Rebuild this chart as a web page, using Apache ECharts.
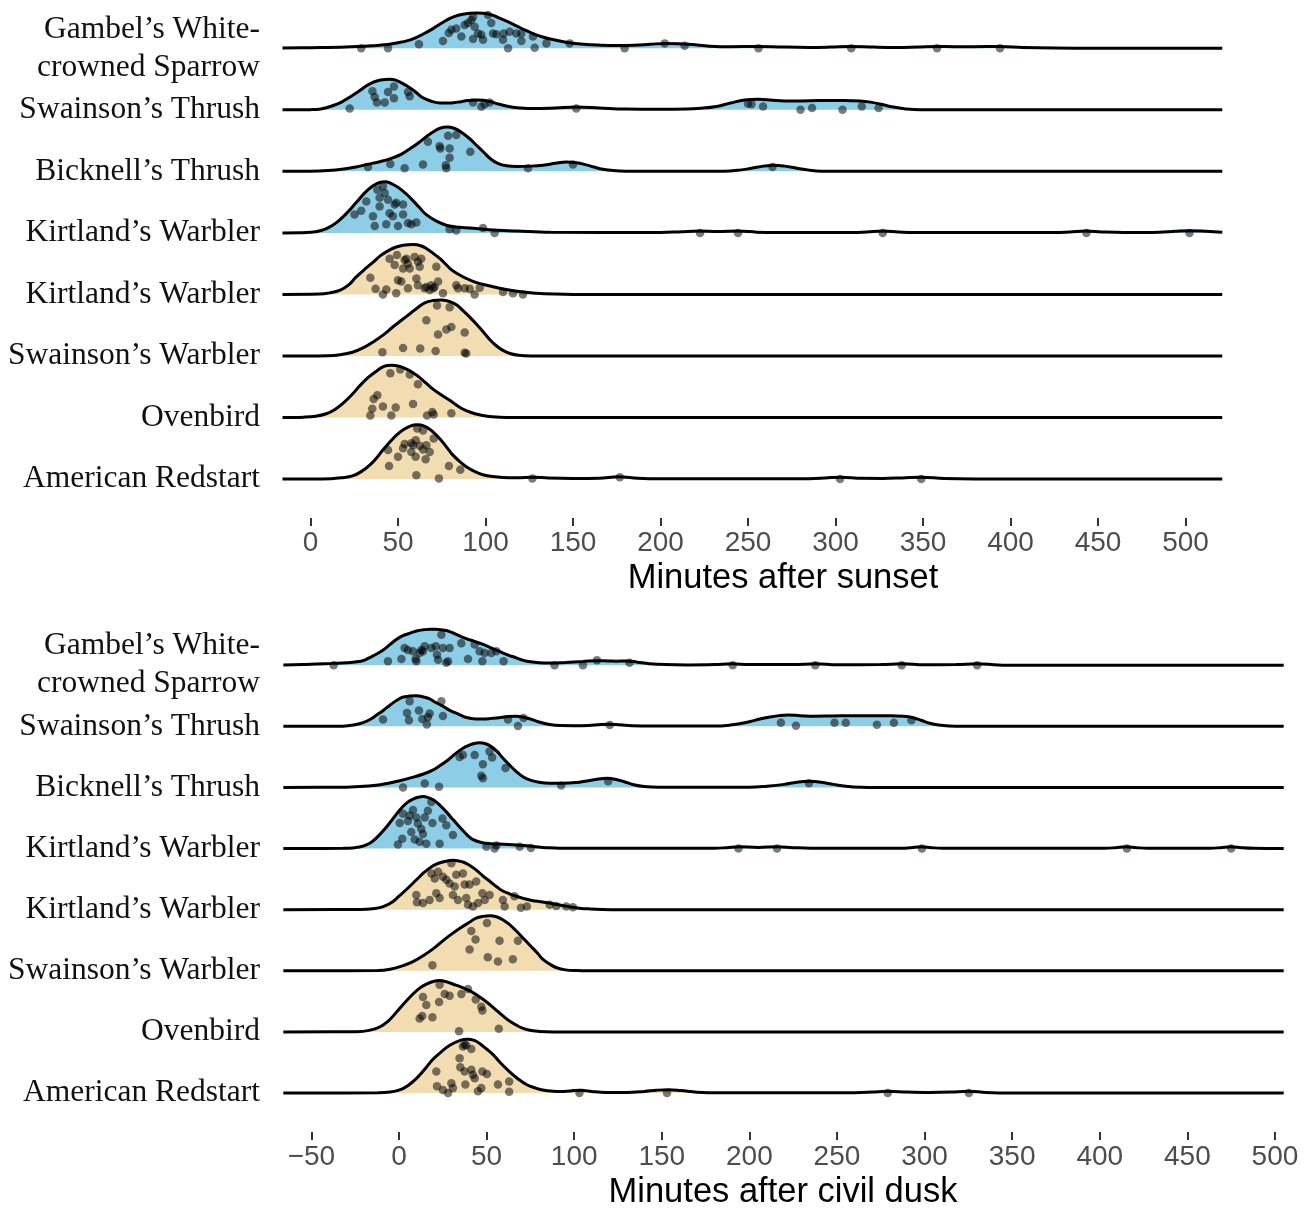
<!DOCTYPE html>
<html>
<head>
<meta charset="utf-8">
<script src="https://cdn.jsdelivr.net/npm/echarts@6/dist/echarts.min.js"></script>
<style>
html,body{margin:0;padding:0;background:#fff;}
#chart{width:1311px;height:1211px;}
</style>
</head>
<body>
<div id="chart"></div>
<script>
// Row order: index 0 = bottom row ... index 7 = top row
const speciesNames = ['American Redstart','Ovenbird','Swainson’s Warbler','Kirtland’s Warbler','Kirtland’s Warbler','Bicknell’s Thrush','Swainson’s Thrush','Gambel’s White-\ncrowned Sparrow'];
const fillGroup = ['tan','tan','tan','tan','blue','blue','blue','blue'];

const sunsetTicks = [0,50,100,150,200,250,300,350,400,450,500];
const duskTicks = [-50,0,50,100,150,200,250,300,350,400,450,500];

// ---------- Panel 1: minutes after sunset (scaled density [minute, height]) ----------
const sunsetDensityGWCS = [[-16,0.005],[0,0.01],[20,0.02],[35,0.04],[44,0.06],[50,0.09],[55,0.12],[60,0.17],[65,0.24],[70,0.32],[75,0.41],[80,0.49],[85,0.54],[91,0.57],[95,0.575],[99,0.57],[104,0.54],[108,0.49],[113,0.43],[118,0.36],[123,0.29],[127,0.24],[132,0.19],[137,0.15],[146,0.10],[156,0.065],[166,0.05],[175,0.045],[185,0.05],[194,0.065],[203,0.08],[210,0.075],[218,0.06],[228,0.035],[240,0.025],[256,0.03],[270,0.02],[285,0.015],[297,0.02],[309,0.03],[322,0.02],[335,0.015],[347,0.022],[358,0.03],[368,0.025],[379,0.025],[394,0.03],[407,0.015],[425,0.005],[450,0],[521,0]];
const sunsetDensitySWTH = [[-16,0],[0,0.003],[6,0.015],[13,0.07],[18,0.13],[22,0.2],[27,0.29],[32,0.39],[36,0.45],[41,0.49],[45,0.495],[49,0.48],[55,0.39],[60,0.29],[64,0.2],[69,0.14],[74,0.11],[79,0.11],[84,0.125],[90,0.15],[95,0.16],[99,0.155],[103,0.13],[108,0.09],[114,0.05],[120,0.03],[127,0.02],[140,0.03],[152,0.045],[165,0.03],[180,0.012],[200,0.008],[215,0.012],[223,0.025],[232,0.055],[240,0.11],[248,0.16],[256,0.17],[264,0.155],[271,0.145],[280,0.145],[290,0.15],[305,0.152],[314,0.145],[320,0.125],[326,0.09],[333,0.045],[340,0.015],[348,0],[521,0]];
const sunsetDensityBITH = [[-16,0],[0,0.003],[10,0.015],[19,0.04],[26,0.07],[32,0.11],[40,0.16],[47,0.22],[52,0.28],[57,0.37],[62,0.47],[66,0.56],[70,0.64],[74,0.70],[78,0.72],[82,0.70],[86,0.64],[91,0.53],[95,0.42],[99,0.31],[103,0.20],[107,0.13],[112,0.09],[118,0.08],[126,0.085],[133,0.10],[140,0.13],[146,0.15],[152,0.14],[157,0.11],[162,0.07],[167,0.035],[173,0.012],[180,0.003],[236,0.003],[245,0.02],[252,0.05],[259,0.085],[265,0.10],[271,0.085],[278,0.05],[285,0.02],[292,0.003],[300,0],[521,0]];
const sunsetDensityKIWAb = [[-16,0],[-6,0.003],[0,0.01],[5,0.03],[10,0.08],[15,0.17],[20,0.30],[26,0.49],[31,0.65],[35,0.75],[39.5,0.82],[43,0.83],[47,0.79],[52,0.70],[57,0.57],[62,0.42],[66,0.30],[72,0.19],[78,0.12],[85,0.09],[91,0.08],[102,0.05],[118,0.03],[137,0.01],[200,0.005],[212,0.02],[222,0.03],[233,0.022],[244,0.03],[255,0.012],[265,0.005],[310,0.005],[318,0.015],[327,0.03],[336,0.015],[345,0.005],[425,0.005],[434,0.015],[443,0.03],[452,0.015],[465,0.005],[485,0.01],[494,0.025],[502,0.035],[512,0.025],[521,0.01]];
const sunsetDensityKIWAt = [[-16,0],[5,0.005],[11,0.025],[17,0.07],[22,0.16],[26,0.28],[31,0.41],[36,0.53],[40,0.63],[45,0.72],[49,0.77],[53,0.80],[59,0.81],[63,0.79],[66,0.75],[70,0.67],[74,0.58],[78,0.47],[81,0.39],[85,0.32],[89,0.26],[94,0.20],[99,0.16],[108,0.10],[118,0.05],[129,0.02],[140,0.005],[150,0],[521,0]];
const sunsetDensitySWWA = [[-16,0],[10,0.005],[17,0.02],[24,0.06],[30,0.13],[36,0.23],[42,0.35],[47,0.47],[52,0.58],[57,0.69],[61,0.78],[65,0.86],[70,0.90],[75,0.91],[80,0.88],[84,0.82],[87,0.74],[91,0.63],[95,0.51],[99,0.38],[102,0.28],[106,0.17],[110,0.09],[114,0.04],[119,0.01],[126,0],[521,0]];
const sunsetDensityOVEN = [[-16,0],[-4,0.005],[3,0.02],[9,0.06],[14,0.13],[19,0.24],[24,0.38],[28,0.51],[33,0.65],[38,0.76],[42,0.83],[46,0.85],[51,0.83],[56,0.77],[61,0.68],[66,0.56],[70,0.46],[75,0.36],[80,0.27],[85,0.17],[89,0.11],[94,0.06],[99,0.03],[104,0.01],[112,0],[521,0]];
const sunsetDensityAMRE = [[-16,0],[12,0.005],[18,0.02],[24,0.05],[29,0.12],[34,0.23],[38,0.35],[41,0.46],[45,0.59],[49,0.71],[53,0.80],[57,0.86],[61,0.88],[65,0.86],[69,0.79],[74,0.65],[78,0.51],[81,0.40],[85,0.29],[89,0.20],[94,0.12],[99,0.065],[104,0.04],[110,0.025],[118,0.02],[127,0.03],[136,0.015],[150,0.008],[165,0.012],[176,0.035],[187,0.012],[200,0.003],[285,0.005],[294,0.015],[303,0.03],[315,0.012],[327,0.01],[338,0.018],[349,0.03],[362,0.008],[380,0],[521,0]];

// jittered observations [minute, height within ridge]
const sunsetPointsGWCS = [[29,0],[44.3,0],[62,0.065],[75.7,0.12],[79,0.25],[80.5,0.30],[83.3,0.32],[86.2,0.19],[88.1,0.38],[90,0.41],[91.9,0.46],[92.9,0.51],[93.8,0.35],[95.7,0.24],[97.6,0.22],[98.6,0.14],[92.9,0.15],[101.4,0.54],[103.3,0.41],[104.3,0.24],[106.2,0.23],[110,0.14],[110.4,0.24],[112.9,0],[113.8,0.27],[117.6,0.24],[120.5,0.12],[120.5,0.24],[127.1,0.19],[128.1,0.01],[134.8,0.08],[148.1,0.08],[179.5,0],[202.4,0.08],[213.8,0.04],[256,0],[309,0],[358,0],[394,0]];
const sunsetPointsSWTH = [[22.4,0.02],[35.4,0.30],[36.7,0.21],[38,0.12],[42.4,0.12],[44.3,0.29],[47.7,0.38],[47.7,0.19],[55.7,0.29],[56.7,0.22],[92.9,0.12],[97.6,0.05],[99.5,0.09],[102.4,0.12],[151.9,0.02],[250,0.10],[252,0.09],[258.6,0.055],[280,0],[286.6,0.03],[304,0],[315,0.055],[324.6,0.03]];
const sunsetPointsBITH = [[32.9,0.07],[45.6,0.12],[53.8,0.05],[64.3,0.11],[67.1,0.48],[73.8,0.41],[74.2,0.37],[77.6,0.05],[77.3,0.10],[78.6,0.58],[79.5,0.37],[79.5,0.22],[83.3,0.59],[91.3,0.32],[124.3,0.05],[150,0.11],[264,0.07]];
const sunsetPointsKIWAb = [[25.2,0.30],[29,0.36],[31.9,0.51],[35.7,0.27],[36.7,0.11],[38.2,0.70],[39.5,0.57],[39.5,0.43],[41.4,0.76],[42.4,0.65],[43.3,0.14],[44.3,0.54],[45.2,0.32],[47.1,0.27],[48.1,0.46],[49,0.49],[50,0.11],[52.9,0.46],[52.9,0.30],[55.7,0.16],[57.6,0.14],[60.5,0.17],[79.5,0.06],[83.3,0.04],[98.6,0.08],[105.2,0],[222.6,0],[244.3,0],[327,0],[443.4,0],[502.3,0]];
const sunsetPointsKIWAt = [[34.2,0.27],[37.2,0.09],[41.4,0],[43.3,0.08],[45.2,0.58],[48.1,0.48],[49,0.02],[49.4,0.64],[50,0.23],[51.9,0.21],[52.9,0.42],[53.8,0.56],[54.8,0.58],[55.7,0.50],[55.7,0.10],[56.7,0.42],[59.5,0.61],[60.5,0.26],[61.4,0.53],[61.4,0.15],[62.4,0.45],[63.3,0.58],[65.2,0.10],[66.2,0.12],[68.1,0.07],[69,0.15],[70,0.10],[70.9,0.12],[71.9,0.45],[72.9,0.21],[75.7,0.02],[83.3,0.15],[84.3,0.10],[88.1,0.10],[91,0.09],[93.8,0],[96.7,0.11],[110,0.04],[115.7,0.02],[121.4,0]];
const sunsetPointsSWWA = [[41.1,0.06],[52.9,0.13],[62.7,0.12],[66.2,0.58],[71.5,0.08],[72.3,0.82],[72.9,0.35],[77.6,0.43],[79.5,0.79],[80.5,0.47],[88.1,0.38],[88.1,0.05],[89,0.04]];
const sunsetPointsOVEN = [[34.2,0.03],[35.3,0.14],[36.1,0.30],[38.2,0.36],[41.4,0.18],[45.6,0.72],[46.2,0.03],[48.7,0.16],[51.3,0.78],[56.7,0.70],[58.6,0.22],[61.4,0.54],[66.6,0.03],[69.6,0.09],[70.4,0.05],[80.5,0.07]];
const sunsetPointsAMRE = [[44.3,0.47],[44.9,0.21],[50,0.36],[52.9,0.50],[53.8,0.57],[57.6,0.58],[57.6,0.44],[58.6,0.55],[60.1,0.63],[60.1,0.36],[60.5,0.06],[61,0.82],[62.4,0.54],[64.3,0.79],[64.3,0.48],[65.8,0.32],[66.2,0.55],[68.1,0.44],[70.4,0.66],[73.4,0.01],[79.1,0.21],[85.6,0.15],[126.8,0.01],[176.7,0.03],[302.6,0],[349,0]];

// ---------- Panel 2: minutes after civil dusk ----------
const duskDensityGWCS = [[-66,0.005],[-55,0.01],[-47,0.02],[-38,0.03],[-30,0.04],[-24,0.055],[-20,0.08],[-17,0.12],[-13,0.18],[-9,0.25],[-5,0.34],[-1.5,0.42],[2,0.48],[6,0.52],[10,0.56],[14,0.58],[18,0.59],[21,0.59],[25,0.575],[29,0.55],[33,0.5],[38,0.44],[43,0.39],[48,0.34],[52,0.29],[57,0.23],[62,0.17],[67,0.12],[71,0.08],[75,0.055],[80,0.04],[86,0.035],[95,0.045],[105,0.06],[113,0.075],[119,0.07],[124,0.065],[130,0.07],[136,0.05],[143,0.025],[152,0.01],[165,0.005],[180,0.01],[190,0.025],[200,0.01],[225,0.01],[238,0.025],[250,0.008],[275,0.01],[287,0.025],[300,0.008],[318,0.01],[330,0.025],[342,0.005],[355,0],[505,0]];
const duskDensitySWTH = [[-66,0],[-32,0.003],[-26,0.02],[-20.5,0.06],[-16,0.12],[-13,0.18],[-9,0.26],[-5,0.35],[-1,0.43],[2,0.475],[6,0.495],[10,0.50],[14,0.48],[17.5,0.45],[21,0.39],[25,0.33],[29,0.26],[33,0.21],[37,0.16],[40,0.135],[44,0.12],[48,0.12],[53,0.13],[57,0.14],[62,0.16],[67,0.165],[71,0.15],[75,0.12],[80,0.07],[86,0.03],[92,0.012],[100,0.01],[108,0.015],[115,0.03],[120,0.035],[126,0.025],[133,0.01],[145,0.004],[180,0.005],[189,0.02],[195,0.045],[200,0.075],[206,0.12],[211,0.15],[217,0.175],[222,0.185],[229,0.175],[237,0.165],[248,0.17],[260,0.175],[272,0.175],[281,0.175],[288,0.165],[293,0.145],[298,0.1],[303,0.05],[308,0.02],[314,0.005],[322,0],[505,0]];
const duskDensityBITH = [[-66,0],[-35,0.003],[-25,0.012],[-13,0.035],[-6,0.07],[0.4,0.11],[7,0.16],[14,0.22],[19,0.28],[23,0.35],[28,0.45],[33,0.57],[37,0.65],[40,0.69],[43,0.72],[46,0.73],[49,0.72],[52,0.68],[56,0.59],[59,0.49],[63,0.37],[67,0.26],[71,0.17],[75,0.12],[80,0.085],[86,0.07],[93,0.07],[101,0.08],[107,0.105],[113,0.135],[119,0.15],[124,0.13],[129,0.09],[134,0.045],[140,0.015],[148,0.003],[200,0.003],[210,0.02],[220,0.05],[227,0.085],[234,0.10],[241,0.085],[248,0.05],[255,0.02],[264,0.003],[272,0],[505,0]];
const duskDensityKIWAb = [[-66,0],[-32,0.003],[-25,0.015],[-20.5,0.04],[-16,0.1],[-13,0.17],[-9,0.29],[-5,0.43],[-1,0.58],[2,0.68],[5,0.76],[8,0.81],[11,0.84],[14,0.85],[17,0.83],[20,0.79],[23,0.72],[27,0.60],[31,0.47],[35,0.34],[39,0.22],[42,0.15],[47,0.10],[52,0.08],[60,0.07],[67,0.06],[73,0.045],[78,0.03],[84,0.015],[92,0.005],[180,0.005],[187,0.015],[194,0.03],[205,0.018],[216,0.03],[225,0.015],[235,0.005],[287,0.005],[292,0.015],[298,0.03],[304,0.015],[310,0.005],[403,0.005],[409,0.015],[415,0.03],[421,0.015],[427,0.005],[463,0.005],[469,0.015],[475,0.03],[481,0.015],[488,0.005],[505,0]];
const duskDensityKIWAt = [[-66,0],[-22,0.003],[-15,0.015],[-9,0.05],[-4,0.12],[0,0.22],[5,0.35],[10,0.49],[14,0.60],[17.5,0.68],[21,0.74],[25,0.78],[31,0.81],[36.5,0.78],[40,0.73],[44,0.65],[48,0.55],[52,0.46],[56,0.37],[59,0.31],[63,0.26],[67,0.22],[71,0.185],[76,0.15],[81,0.13],[86,0.11],[91,0.08],[97,0.05],[103,0.025],[109,0.012],[116,0.004],[125,0],[505,0]];
const duskDensitySWWA = [[-66,0],[-12,0.003],[-5,0.025],[2,0.08],[8,0.15],[14,0.25],[20,0.37],[25,0.49],[30,0.60],[35,0.70],[40,0.79],[44,0.86],[48,0.89],[52,0.90],[56,0.88],[59,0.84],[63,0.76],[67,0.65],[71,0.53],[75,0.41],[79,0.29],[82,0.19],[86,0.11],[90,0.05],[95,0.015],[101,0.003],[110,0],[505,0]];
const duskDensityOVEN = [[-66,0],[-24,0.003],[-17,0.025],[-11,0.08],[-6,0.18],[-1.5,0.32],[3,0.47],[8,0.62],[12,0.72],[15.6,0.78],[19,0.82],[23,0.84],[27,0.82],[31,0.78],[35,0.74],[40,0.68],[45,0.59],[50,0.49],[55,0.37],[59,0.27],[64,0.16],[69,0.08],[74,0.03],[80,0.008],[88,0],[505,0]];
const duskDensityAMRE = [[-66,0],[-12,0.003],[-5,0.015],[0.4,0.05],[5,0.12],[10,0.24],[15,0.40],[19,0.54],[24,0.67],[29,0.78],[35,0.86],[39,0.88],[43,0.86],[46,0.81],[50,0.72],[54,0.62],[58,0.49],[63,0.35],[68,0.23],[73,0.135],[78,0.08],[82,0.05],[88,0.03],[94,0.025],[100,0.04],[104,0.045],[110,0.025],[118,0.01],[130,0.01],[140,0.025],[147,0.045],[154,0.055],[161,0.04],[170,0.012],[185,0.003],[260,0.005],[270,0.015],[279,0.03],[290,0.015],[303,0.008],[315,0.015],[325,0.03],[335,0.01],[348,0],[505,0]];

const duskPointsGWCS = [[-37.3,0],[-6.3,0.065],[1.4,0.10],[3.2,0.28],[5.1,0.25],[8,0.23],[9.5,0.10],[9.9,0.065],[11.8,0.20],[12.8,0.25],[13.7,0.23],[14.7,0.31],[18.5,0.28],[21,0.31],[21.7,0.17],[22.3,0.09],[24.2,0.50],[25.1,0.28],[27,0.04],[28,0.065],[28.9,0.28],[35.6,0.36],[39.4,0.10],[43.2,0.34],[46,0.23],[47.6,0.065],[48.9,0.20],[52.7,0.20],[55.6,0.23],[59.7,0.065],[88.8,0],[105,0],[113,0.08],[131.6,0.04],[190.5,0],[237.6,0],[287,0],[330,0]];
const duskPointsSWTH = [[-9.1,0.11],[4.6,0.22],[6.1,0.41],[5.7,0.10],[11.4,0.26],[13.3,0.12],[15.9,0.03],[16.5,0.15],[17.5,0.21],[24.2,0.41],[25.1,0.17],[62.2,0.11],[67.9,0.005],[71.1,0.135],[120.3,0.02],[218,0.06],[226.6,0.01],[248.6,0.06],[255,0.06],[272.8,0.025],[282.5,0.06],[292.5,0.10]];
const duskPointsBITH = [[2.3,0],[14.7,0.065],[22.9,0.01],[34.6,0.50],[36.5,0.53],[43.2,0.53],[47.9,0.38],[47,0.19],[47.9,0.15],[51.7,0.59],[53.2,0.49],[60.8,0.32],[92.6,0.03],[119.4,0.10],[234,0.07]];
const duskPointsKIWAb = [[-0.6,0.065],[0.4,0.42],[1.9,0.16],[2.3,0.57],[5.1,0.45],[6.1,0.54],[7,0.27],[8,0.63],[9,0.15],[9.9,0.51],[10.8,0.41],[11.8,0.11],[12.7,0.32],[13.7,0.24],[14.7,0.51],[15.6,0.08],[16.5,0.62],[18.5,0.76],[19.1,0.42],[23.2,0.08],[24.8,0.49],[27,0.38],[30.8,0.22],[49.9,0.03],[54.6,0],[55.6,0.05],[68.9,0.03],[75.3,0.01],[193.8,0],[215.8,0],[298.5,0],[415.5,0],[475,0]];
const duskPointsKIWAt = [[9.9,0.24],[10.3,0.12],[13.7,0.11],[17.5,0.16],[18.5,0.59],[20.4,0.51],[21.3,0.27],[22.3,0.62],[23.2,0.19],[25.1,0.54],[27,0.49],[28.9,0.43],[29.9,0.76],[30.8,0.24],[31.8,0.38],[32.7,0.57],[33.7,0.16],[36.5,0.59],[37.5,0.41],[38.4,0.19],[39.4,0.08],[40.3,0.41],[42.2,0.05],[44.1,0.46],[45.1,0.11],[47.6,0.27],[48.9,0.16],[51.7,0.24],[59.3,0.16],[60.3,0.05],[65.9,0.22],[69.6,0.03],[73,0.05],[86,0.08],[89.8,0.06],[95.5,0.05],[99.3,0.04]];
const duskPointsSWWA = [[19.1,0.09],[40.3,0.35],[41.3,0.65],[43.7,0.51],[50.2,0.78],[50.7,0.22],[56.5,0.15],[57.4,0.49],[65,0.19],[67.9,0.49]];
const duskPointsOVEN = [[11.8,0.22],[13.3,0.26],[13.7,0.57],[15.6,0.44],[19.1,0.24],[22.9,0.49],[23.2,0.77],[26.1,0.62],[28.9,0.59],[34.3,0.01],[35.6,0.62],[39.4,0.70],[43.8,0.53],[47,0.41],[47.6,0.35],[57,0.05]];
const duskPointsAMRE = [[21.3,0.35],[21.7,0.11],[25.1,0.05],[28,0],[29.9,0.16],[30.8,0.08],[34.6,0.57],[35,0.42],[36.5,0.76],[37.5,0.79],[37.5,0.35],[38.4,0.78],[37.9,0.14],[41.3,0.72],[41.3,0.38],[42.2,0.30],[43.2,0.24],[45.1,0.03],[47,0.08],[47.6,0.35],[50.2,0.31],[56.5,0.14],[62.9,0.19],[62.9,0.02],[103,0],[153,0],[279,0],[325.3,0]];

// ---------- assemble ----------
const sunsetDensities = [sunsetDensityAMRE,sunsetDensityOVEN,sunsetDensitySWWA,sunsetDensityKIWAt,sunsetDensityKIWAb,sunsetDensityBITH,sunsetDensitySWTH,sunsetDensityGWCS];
const sunsetPoints = [sunsetPointsAMRE,sunsetPointsOVEN,sunsetPointsSWWA,sunsetPointsKIWAt,sunsetPointsKIWAb,sunsetPointsBITH,sunsetPointsSWTH,sunsetPointsGWCS];
const duskDensities = [duskDensityAMRE,duskDensityOVEN,duskDensitySWWA,duskDensityKIWAt,duskDensityKIWAb,duskDensityBITH,duskDensitySWTH,duskDensityGWCS];
const duskPoints = [duskPointsAMRE,duskPointsOVEN,duskPointsSWWA,duskPointsKIWAt,duskPointsKIWAb,duskPointsBITH,duskPointsSWTH,duskPointsGWCS];

const fills = {blue:'#8ECDE6', tan:'#F2DDB2'};
const rowIdx = [0,1,2,3,4,5,6,7];

function panelSeries(g, densities, points) {
  const out = [];
  for (let i = densities.length - 1; i >= 0; i--) {
    out.push({
      type:'line', xAxisIndex:g, yAxisIndex:g, silent:true, animation:false,
      data: densities[i].map(d => [d[0], i + d[1]]),
      smooth:0.4, symbol:'none',
      lineStyle:{color:'#000', width:3},
      areaStyle:{color:fills[fillGroup[i]], opacity:1, origin:i},
      z:2 + (7 - i) * 0.01
    });
  }
  const pts = [];
  points.forEach((arr, i) => arr.forEach(p => pts.push([p[0], i + p[1]])));
  out.push({
    type:'scatter', xAxisIndex:g, yAxisIndex:g, silent:true, animation:false,
    data:pts, symbol:'circle', symbolSize:8.5,
    itemStyle:{color:'rgba(0,0,0,0.65)'}, z:5
  });
  return out;
}

function xAxis(g, min, max, ticks, name) {
  return {
    type:'value', gridIndex:g, min:min, max:max,
    axisLine:{show:false, onZero:false}, splitLine:{show:false},
    axisTick:{show:true, customValues:ticks, length:8, lineStyle:{color:'#333', width:2}},
    axisLabel:{customValues:ticks, margin:11, color:'#4D4D4D', fontSize:28, fontFamily:'Liberation Sans',
      formatter: v => (v < 0 ? '\u2212' + Math.abs(v) : String(v))},
    name:name, nameLocation:'middle', nameGap:43,
    nameTextStyle:{color:'#000', fontSize:34.5, fontFamily:'Liberation Sans', verticalAlign:'top'}
  };
}
function yAxis(g, min, max) {
  return {
    type:'value', gridIndex:g, min:min, max:max,
    axisLine:{show:false}, axisTick:{show:false}, splitLine:{show:false},
    axisLabel:{customValues:rowIdx, margin:23, color:'#111', fontSize:31.5, lineHeight:38,
      fontFamily:'Liberation Serif', formatter: v => speciesNames[Math.round(v)] || ''}
  };
}

const chart = echarts.init(document.getElementById('chart'), null, {renderer:'canvas'});
chart.setOption({
  backgroundColor:'#fff',
  animation:false,
  grid:[
    {left:283, width:1000, top:0, height:518},
    {left:283, width:1000, top:600, height:536}
  ],
  xAxis:[
    xAxis(0, -15.71, 555.71, sunsetTicks, 'Minutes after sunset'),
    xAxis(1, -66.2, 504.6, duskTicks, 'Minutes after civil dusk')
  ],
  yAxis:[
    yAxis(0, -0.634, 7.785),
    yAxis(1, -0.638, 8.067)
  ],
  series:[].concat(panelSeries(0, sunsetDensities, sunsetPoints), panelSeries(1, duskDensities, duskPoints))
});
</script>
</body>
</html>
